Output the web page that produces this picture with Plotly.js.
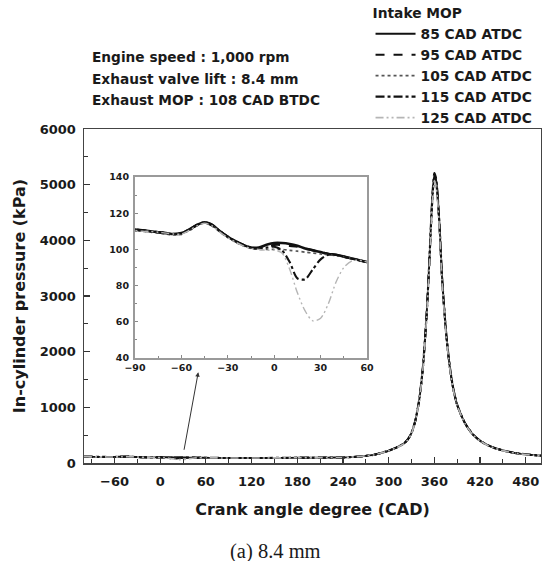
<!DOCTYPE html>
<html>
<head>
<meta charset="utf-8">
<script src="https://cdn.plot.ly/plotly-3.0.1.min.js"></script>
<style>
html,body{margin:0;padding:0;background:#fff;}
#chart{width:542px;height:561px;}
</style>
</head>
<body>
<div id="chart"></div>
<script>
// ---- Data ----
const seriesNames = ['85 CAD ATDC', '95 CAD ATDC', '105 CAD ATDC', '115 CAD ATDC', '125 CAD ATDC'];

// low-pressure region (gas exchange), crank angle in CAD
const cadLow = [-100,-95,-90,-85,-80,-75,-70,-65,-60,-55,-50,-45,-40,-35,-30,-25,-20,-15,-10,-5,0,5,10,15,20,25,30,35,40,45,50,55,60];
const p85Low  = [111.5,111.5,111,110.5,110,109.5,109,108.5,109,111,113.5,115,113.5,110,107,104.5,102.5,101,101,102.5,103.5,103.5,103,102,100.5,99.5,98.5,97.5,97,96,95,94,93];
const p95Low  = [111,111.5,111,110.5,110,109.5,109,108.5,108.5,110.5,113.5,115,113,110,107,104.5,102.5,101,100.5,101.5,102.5,102.5,102,101.5,100.5,99.5,98.5,97.5,97,96,95,94,93];
const p105Low = [111,111,110.5,110,109.5,109,108.5,108,108.5,110.5,113,114.5,113,109.5,106.5,104,102,100.5,100,100,100,100,99.5,99,98.5,98,97.5,97,96.5,96,95,94,93];
const p115Low = [111.5,111,111,110.5,110,109.5,109,108.5,109,111,113.5,115,113.5,110,107,104.5,102.5,101,100.5,101,101.5,99.5,93,84,83.5,89,94.5,97,97,96,95,94,93];
const p125Low = [111,111,110.5,110,110,109.5,109,108.5,108.5,110.5,113,114.5,113,109.5,106.5,104,102,100.5,100,99.5,99.5,98,89,76,66,60.5,62,70,82,90,93.5,94,93];

// compression / expansion region
const cadHigh = [70,80,90,100,120,140,160,180,200,220,240,250,260,270,280,290,300,310,320,325,330,335,340,345,350,353,356,358,360,362,364,367,370,375,380,385,390,400,410,420,430,440,450,460,470,480,490,500];
const p85High  = [92,91,90,90,90,91,92,94,95,97,100,106,115,128,145,180,220,275,350,420,540,760,1120,1720,2700,3500,4400,4900,5180,5100,4850,4200,3350,2400,1750,1320,1040,720,520,400,320,265,225,195,172,155,142,132];
const p95High  = [92,91,90,90,90,91,92,94,95,97,100,106,115,128,145,180,220,274,348,418,537,755,1112,1710,2680,3480,4370,4870,5150,5070,4830,4180,3335,2390,1745,1317,1038,718,519,399,319,264,224,194,171,154,141,131];
const p105High = [92,91,90,90,90,91,92,94,95,97,100,106,115,128,145,180,220,273,346,415,533,750,1104,1698,2660,3450,4340,4840,5110,5030,4790,4150,3310,2370,1735,1310,1034,716,517,398,318,263,223,193,170,153,140,130];
const p115High = [92,91,90,90,90,91,92,94,95,97,100,106,115,128,145,180,222,277,352,423,544,765,1128,1732,2720,3520,4430,4930,5210,5130,4880,4220,3365,2410,1758,1325,1044,722,522,401,321,266,226,196,173,156,143,133];
const p125High = [92,91,90,90,90,91,92,94,95,97,100,106,115,128,145,180,218,272,344,412,530,745,1096,1688,2640,3420,4300,4800,5070,4990,4750,4110,3285,2350,1725,1302,1030,713,515,396,317,262,222,192,169,152,139,129];

const lowSets  = [p85Low, p95Low, p105Low, p115Low, p125Low];
const highSets = [p85High, p95High, p105High, p115High, p125High];

// ---- Styles ----
const FONT = 'DejaVu Sans, Verdana, sans-serif';
const styles = [
  {color:'#111111', dash:'solid', width:1.9, insetWidth:2.6},
  {color:'#111111', dash:'dash', width:1.9, insetWidth:2.3},
  {color:'#555555', dash:'dot', width:1.8, insetWidth:1.7},
  {color:'#111111', dash:'dashdot', width:2.1, insetWidth:2.1},
  {color:'#b5b5b5', dash:'8px,3px,2px,3px,2px,3px', width:1.6, insetWidth:1.4}
];

const traces = [];
seriesNames.forEach((name, i) => {
  traces.push({
    type:'scatter', mode:'lines', name:name,
    x: cadLow.concat(cadHigh), y: lowSets[i].concat(highSets[i]),
    xaxis:'x', yaxis:'y',
    line:{color:styles[i].color, dash:styles[i].dash, width:styles[i].width, shape:'spline', smoothing:0.6},
    showlegend:true
  });
});
seriesNames.forEach((name, i) => {
  traces.push({
    type:'scatter', mode:'lines', name:name,
    x: cadLow, y: lowSets[i],
    xaxis:'x2', yaxis:'y2',
    line:{color:styles[i].color, dash: i===0 ? 'solid' : (i===1 ? 'dash' : (i===2 ? 'dot' : styles[i].dash)), width:styles[i].insetWidth, shape:'spline', smoothing:0.8},
    showlegend:false
  });
});

const TXT = {family:FONT, size:13.7, weight:'bold', color:'#1a1a1a'};

const layout = {
  width:542, height:561,
  margin:{l:84, r:1, t:129, b:98},
  paper_bgcolor:'#ffffff', plot_bgcolor:'#ffffff',
  font:{family:FONT, color:'#1a1a1a'},
  showlegend:true,
  legend:{
    x:0.627, y:1.385, xanchor:'left', yanchor:'top',
    bgcolor:'rgba(0,0,0,0)', borderwidth:0,
    font:{family:FONT, size:13.8, weight:'bold', color:'#1a1a1a'},
    title:{text:'Intake MOP', side:'top', font:{family:FONT, size:13.8, weight:'bold', color:'#1a1a1a'}},
    tracegroupgap:0, itemwidth:40
  },
  xaxis:{
    domain:[0,1], range:[-100,500], tick0:0, dtick:60,
    ticks:'inside', ticklen:6, tickwidth:1.2, tickcolor:'#333',
    minor:{dtick:30, ticks:'inside', ticklen:4, tickcolor:'#333', tickwidth:1},
    showline:true, linecolor:'#444', linewidth:1.5, mirror:true,
    showgrid:false, zeroline:false,
    tickfont:{family:FONT, size:13, weight:'bold', color:'#1a1a1a'},
    ticklabelstandoff:6,
    title:{text:'Crank angle degree (CAD)', standoff:15, font:{family:FONT, size:16, weight:'bold', color:'#1a1a1a'}}
  },
  yaxis:{
    domain:[0,1], range:[0,6000], dtick:1000,
    ticks:'inside', ticklen:6, tickwidth:1.2, tickcolor:'#333',
    minor:{dtick:500, ticks:'inside', ticklen:4, tickcolor:'#333', tickwidth:1},
    showline:true, linecolor:'#444', linewidth:1.5, mirror:true,
    showgrid:false, zeroline:false,
    tickfont:{family:FONT, size:13, weight:'bold', color:'#1a1a1a'},
    ticklabelstandoff:4,
    title:{text:'In-cylinder pressure (kPa)', standoff:10, font:{family:FONT, size:16, weight:'bold', color:'#1a1a1a'}}
  },
  xaxis2:{
    domain:[0.1116,0.6193], anchor:'y2', range:[-90,60], tick0:-90, dtick:30,
    ticks:'inside', ticklen:3, tickcolor:'#888', tickwidth:1,
    minor:{dtick:15, ticks:'inside', ticklen:2, tickcolor:'#888'},
    showline:true, linecolor:'#9a9a9a', linewidth:2, mirror:true,
    showgrid:false, zeroline:false,
    tickfont:{family:FONT, size:9.5, weight:'bold', color:'#1a1a1a'},
    ticklabelstandoff:0
  },
  yaxis2:{
    domain:[0.3144,0.8563], anchor:'x2', range:[40,140], dtick:20,
    ticks:'inside', ticklen:3, tickcolor:'#888', tickwidth:1,
    minor:{dtick:10, ticks:'inside', ticklen:2, tickcolor:'#888'},
    showline:true, linecolor:'#9a9a9a', linewidth:2, mirror:true,
    showgrid:false, zeroline:false,
    tickfont:{family:FONT, size:9.5, weight:'bold', color:'#1a1a1a'},
    ticklabelstandoff:2
  },
  annotations:[
    {xref:'paper', yref:'paper', x:0.014, y:1.2156, xanchor:'left', yanchor:'middle', showarrow:false,
     text:'Engine speed : 1,000 rpm', font:TXT},
    {xref:'paper', yref:'paper', x:0.014, y:1.1497, xanchor:'left', yanchor:'middle', showarrow:false,
     text:'Exhaust valve lift : 8.4 mm', font:TXT},
    {xref:'paper', yref:'paper', x:0.014, y:1.0868, xanchor:'left', yanchor:'middle', showarrow:false,
     text:'Exhaust MOP : 108 CAD BTDC', font:TXT},
    {xref:'paper', yref:'paper', x:0.42, y:-0.2635, xanchor:'center', yanchor:'middle', showarrow:false,
     text:'(a) 8.4 mm', font:{family:'Liberation Serif, Times New Roman, serif', size:20.5, color:'#1a1a1a'}},
    {xref:'x', yref:'y', x:50, y:1630, axref:'x', ayref:'y', ax:31, ay:210,
     showarrow:true, arrowhead:2, arrowsize:0.9, arrowwidth:1, arrowcolor:'#333', text:''}
  ]
};

Plotly.newPlot('chart', traces, layout, {displayModeBar:false, staticPlot:true});
</script>
</body>
</html>
